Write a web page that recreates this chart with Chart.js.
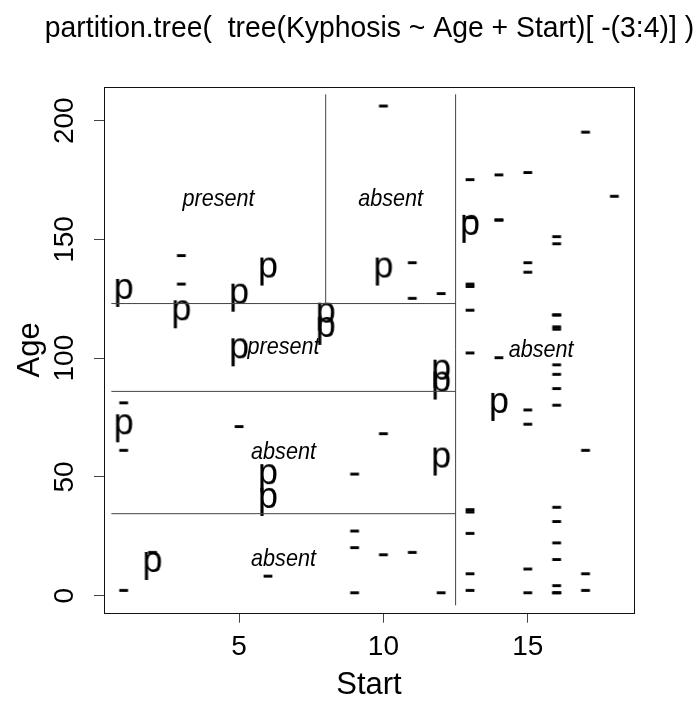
<!DOCTYPE html>
<html><head><meta charset="utf-8">
<script src="https://cdn.jsdelivr.net/npm/chart.js@4.4.1/dist/chart.umd.min.js"></script>
<style>html,body{margin:0;padding:0;background:#fff}#wrap{width:697px;height:704px}</style>
</head><body><div id="wrap"><canvas id="c" width="697" height="704"></canvas></div>
<script>
const titleText = 'partition.tree(  tree(Kyphosis ~ Age + Start)[ -(3:4)] )';
const xTitle = 'Start';
const yTitle = 'Age';
const xTicks = [5, 10, 15];
const yTicks = [0, 50, 100, 150, 200];

// kyphosis data (rows 1..81)
const kyphosis = [
 'absent','absent','present','absent','absent','absent','absent','absent','absent','present',
 'present','absent','absent','absent','absent','absent','absent','absent','absent','absent',
 'absent','present','present','absent','present','absent','absent','absent','absent','absent',
 'absent','absent','absent','absent','absent','absent','absent','present','absent','present',
 'present','absent','absent','absent','absent','present','absent','absent','present','absent',
 'absent','absent','present','absent','absent','absent','absent','present','absent','absent',
 'present','present','absent','absent','absent','absent','absent','absent','absent','absent',
 'absent','absent','absent','absent','absent','absent','present','absent','absent','present',
 'absent'];
const start = [
 5,14,5,1,15,16,17,16,16,12,
 14,16,2,12,18,16,15,13,16,9,
 16,5,12,3,2,13,6,14,16,16,
 16,11,13,16,11,16,9,6,9,12,
 1,13,3,1,16,10,15,13,3,14,
 10,17,6,17,15,15,13,8,9,13,
 1,8,1,16,16,10,17,13,11,16,
 14,12,16,10,15,15,13,13,13,6,
 13];
const age = [
 71,158,128,2,1,1,61,37,113,59,
 82,148,18,1,168,1,78,175,80,27,
 22,105,96,131,15,9,8,100,4,151,
 31,125,130,112,140,93,1,52,20,91,
 73,35,143,61,97,139,136,131,121,177,
 68,9,139,2,140,72,2,120,51,102,
 130,114,81,118,118,17,195,159,18,15,
 158,127,87,206,11,178,157,26,120,42,
 36];

// tree splits
const splitStart1 = 12.5;   // Start < 12.5
const splitAge1 = 34.5;     // Age < 34.5
const splitAge2 = 86;       // Age < 86
const splitAge3 = 123;      // Age < 123
const splitStart2 = 8;      // Start < 8
const regionNames = ['present', 'absent', 'present', 'absent', 'absent', 'absent'];

const FONT = '"Liberation Sans", Arial, Helvetica, sans-serif';

// ranges
const sMin = Math.min(...start), sMax = Math.max(...start);
const aMin = Math.min(...age), aMax = Math.max(...age);
const sr = [sMin - 0.025 * (sMax - sMin), sMax + 0.025 * (sMax - sMin)];
const ar = [aMin - 0.025 * (aMax - aMin), aMax + 0.025 * (aMax - aMin)];
const xlim = [sMin - 0.04 * (sMax - sMin), sMax + 0.04 * (sMax - sMin)];
const ylim = [aMin - 0.04 * (aMax - aMin), aMax + 0.04 * (aMax - aMin)];

// region rectangles [x0,x1,y0,y1]
const regions = [
  [sr[0], splitStart2, splitAge3, ar[1]],
  [splitStart2, splitStart1, splitAge3, ar[1]],
  [sr[0], splitStart1, splitAge2, splitAge3],
  [sr[0], splitStart1, splitAge1, splitAge2],
  [sr[0], splitStart1, ar[0], splitAge1],
  [splitStart1, sr[1], ar[0], ar[1]]
];
const segments = [
  [[splitStart1, ar[0]], [splitStart1, ar[1]]],
  [[sr[0], splitAge1], [splitStart1, splitAge1]],
  [[sr[0], splitAge2], [splitStart1, splitAge2]],
  [[sr[0], splitAge3], [splitStart1, splitAge3]],
  [[splitStart2, splitAge3], [splitStart2, ar[1]]]
];

function glyph(ch, shift) {
  const c = document.createElement('canvas');
  c.width = 40; c.height = 60;
  const g = c.getContext('2d');
  g.fillStyle = '#000';
  g.font = '36px ' + FONT;
  g.textAlign = 'center';
  g.textBaseline = 'alphabetic';
  g.fillText(ch, 20, 30 + 0.26 * 36 + shift);
  return c;
}
const dashImg = glyph('-', 0);
const pImg = glyph('p', 3);

const absentPts = [], presentPts = [];
for (let i = 0; i < start.length; i++) {
  (kyphosis[i] === 'present' ? presentPts : absentPts).push({x: start[i], y: age[i]});
}

const datasets = [];
segments.forEach(s => datasets.push({
  type: 'scatter', data: s.map(p => ({x: p[0], y: p[1]})), showLine: true,
  borderColor: '#444', borderWidth: 1, pointRadius: 0, fill: false
}));
datasets.push({label: 'absent', data: absentPts, pointStyle: dashImg, pointRadius: 3});
datasets.push({label: 'present', data: presentPts, pointStyle: pImg, pointRadius: 3});

const boxPlugin = {
  id: 'box',
  afterDraw(chart) {
    const a = chart.chartArea, ctx = chart.ctx;
    ctx.save();
    ctx.strokeStyle = '#111'; ctx.lineWidth = 1;
    ctx.strokeRect(Math.round(a.left) + 0.5, Math.round(a.top) + 0.5,
      Math.round(a.right - a.left), Math.round(a.bottom - a.top));
    ctx.restore();
  }
};
const labelPlugin = {
  id: 'regionLabels',
  afterDatasetsDraw(chart) {
    const ctx = chart.ctx, xs = chart.scales.x, ys = chart.scales.y;
    ctx.save();
    ctx.fillStyle = '#000';
    ctx.font = 'italic 24px ' + FONT;
    ctx.textAlign = 'center'; ctx.textBaseline = 'middle';
    regions.forEach((r, i) => {
      const px = xs.getPixelForValue((r[0] + r[1]) / 2);
      const py = ys.getPixelForValue((r[2] + r[3]) / 2);
      ctx.save(); ctx.translate(px, py); ctx.scale(0.9, 1);
      ctx.fillText(regionNames[i], 0, 0);
      ctx.restore();
    });
    ctx.restore();
  }
};
// widen the title glyphs horizontally (reference font is wider than Liberation Sans)
const titleStretch = {
  id: 'titleStretch',
  afterLayout(chart) {
    const tb = chart.titleBlock;
    if (!tb || tb._wrapped) return;
    const orig = tb.draw.bind(tb);
    tb.draw = function () {
      const ctx = chart.ctx, cx = (tb.left + tb.right) / 2 - 2;
      ctx.save();
      ctx.translate(cx, 0); ctx.scale(1.225, 1); ctx.translate(-cx, 0);
      orig();
      ctx.restore();
    };
    tb._wrapped = true;
  }
};

new Chart(document.getElementById('c'), {
  type: 'scatter',
  data: {datasets},
  plugins: [boxPlugin, labelPlugin, titleStretch],
  options: {
    responsive: false, animation: false, devicePixelRatio: 1,
    layout: {padding: {left: 0, right: 63, top: 0, bottom: 0}},
    plugins: {
      legend: {display: false}, tooltip: {enabled: false},
      title: {display: true, text: titleText, fullSize: false, color: '#000',
        font: {family: FONT, size: 29, weight: 'normal', lineHeight: 1.2},
        padding: {top: 12, bottom: 40.2}}
    },
    scales: {
      x: {
        type: 'linear', min: xlim[0], max: xlim[1],
        afterBuildTicks: s => { s.ticks = xTicks.map(v => ({value: v})); },
        afterFit: s => { s.height = 91.3; },
        ticks: {color: '#000', padding: 7.5, font: {family: FONT, size: 28, lineHeight: 1.2}},
        grid: {display: true, drawOnChartArea: false, drawTicks: true, tickLength: 10, color: '#444'},
        border: {display: false},
        title: {display: true, text: xTitle, color: '#000', padding: {top: 0, bottom: 0},
          font: {family: FONT, size: 31, lineHeight: 1.2}}
      },
      y: {
        type: 'linear', min: ylim[0], max: ylim[1],
        afterBuildTicks: s => { s.ticks = yTicks.map(v => ({value: v})); },
        afterFit: s => { s.width = 104; },
        ticks: {color: '#000', padding: 5.6, minRotation: 90, maxRotation: 90, crossAlign: 'center',
          font: {family: FONT, size: 28, lineHeight: 1.2}},
        grid: {display: true, drawOnChartArea: false, drawTicks: true, tickLength: 10, color: '#444'},
        border: {display: false},
        title: {display: true, text: yTitle, color: '#000', padding: {top: 11.4, bottom: 0},
          font: {family: FONT, size: 31, lineHeight: 1.2}}
      }
    }
  }
});
</script></body></html>
